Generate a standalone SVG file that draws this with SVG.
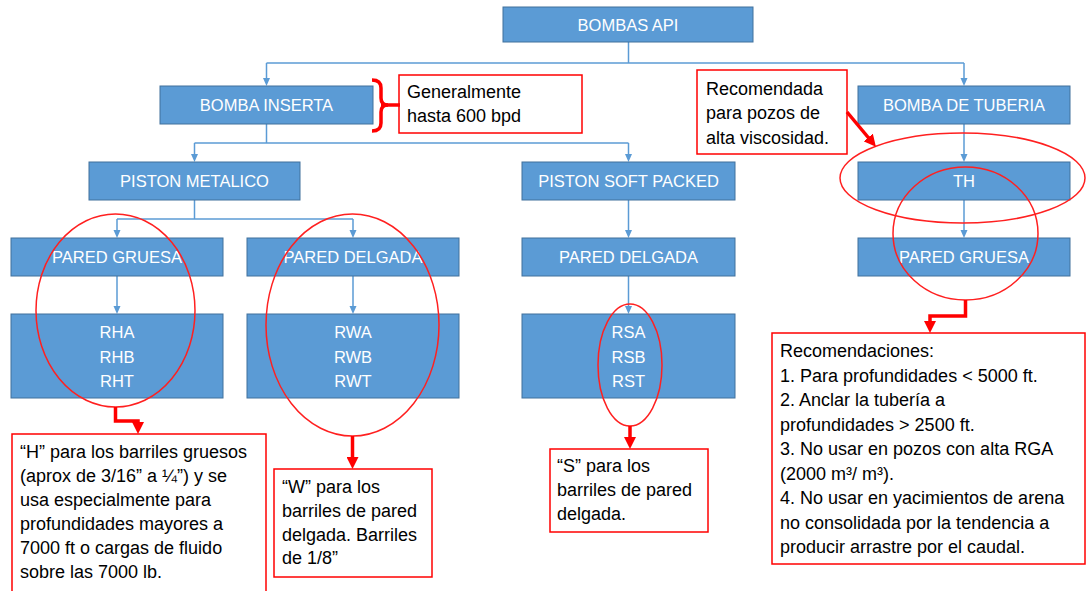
<svg xmlns="http://www.w3.org/2000/svg" width="1086" height="591" viewBox="0 0 1086 591">
<style>
.box{fill:#5b9bd5;stroke:#41719c;stroke-width:1}
.bt{font-family:"Liberation Sans",Arial,sans-serif;font-size:16.5px;fill:#ffffff;text-anchor:middle}
.conn{fill:none;stroke:#5b9bd5;stroke-width:1.5}
.note{fill:#ffffff;stroke:#ff0000;stroke-width:1.5}
.nt{font-family:"Liberation Sans",Arial,sans-serif;font-size:18px;fill:#000000}
.ell{fill:none;stroke:#ff2020;stroke-width:1.5}
.rc{fill:none;stroke:#ff0000;stroke-width:3.5}
</style>
<defs>
<marker id="ab" markerUnits="userSpaceOnUse" markerWidth="8" markerHeight="8" viewBox="0 0 8 8" refX="1" refY="4" orient="auto">
<path d="M0,0.5 L8,4 L0,7.5 z" fill="#5b9bd5"/>
</marker>
<marker id="ar" markerUnits="userSpaceOnUse" markerWidth="12" markerHeight="12" viewBox="0 0 12 12" refX="2" refY="6" orient="auto">
<path d="M0,0 L12,6 L0,12 z" fill="#ff0000"/>
</marker>
</defs>

<g id="connectors">
<path class="conn" d="M628.5,42 V63"/>
<path class="conn" d="M266.5,63 H964"/>
<path class="conn" d="M266.5,63 V79" marker-end="url(#ab)"/>
<path class="conn" d="M964,63 V79" marker-end="url(#ab)"/>
<path class="conn" d="M266.5,124 V143"/>
<path class="conn" d="M194.5,143 H628.5"/>
<path class="conn" d="M194.5,143 V155" marker-end="url(#ab)"/>
<path class="conn" d="M628.5,143 V155" marker-end="url(#ab)"/>
<path class="conn" d="M194.5,200 V219"/>
<path class="conn" d="M117,219 H353"/>
<path class="conn" d="M117,219 V231" marker-end="url(#ab)"/>
<path class="conn" d="M353,219 V231" marker-end="url(#ab)"/>
<path class="conn" d="M117,276 V307" marker-end="url(#ab)"/>
<path class="conn" d="M353,276 V307" marker-end="url(#ab)"/>
<path class="conn" d="M628.5,200 V231" marker-end="url(#ab)"/>
<path class="conn" d="M628.5,276 V307" marker-end="url(#ab)"/>
<path class="conn" d="M964,124 V155" marker-end="url(#ab)"/>
<path class="conn" d="M964,200 V231" marker-end="url(#ab)"/>
</g>

<g id="bombas-api"><rect class="box" x="503" y="7" width="250" height="35"/><text class="bt" x="628" y="30.5">BOMBAS API</text></g>
<g id="bomba-inserta"><rect class="box" x="160" y="86" width="213" height="38"/><text class="bt" x="266.5" y="111">BOMBA INSERTA</text></g>
<g id="bomba-tuberia"><rect class="box" x="858" y="86" width="212" height="38"/><text class="bt" x="964" y="111">BOMBA DE TUBERIA</text></g>
<g id="piston-metalico"><rect class="box" x="89" y="162" width="211" height="38"/><text class="bt" x="194.5" y="187">PISTON METALICO</text></g>
<g id="piston-soft"><rect class="box" x="522" y="162" width="213" height="38"/><text class="bt" x="628.5" y="187">PISTON SOFT PACKED</text></g>
<g id="th"><rect class="box" x="858" y="162" width="212" height="38"/><text class="bt" x="964" y="187">TH</text></g>
<g id="pared-gruesa-1"><rect class="box" x="11" y="238" width="212" height="38"/><text class="bt" x="117" y="263">PARED GRUESA</text></g>
<g id="pared-delgada-1"><rect class="box" x="247" y="238" width="212" height="38"/><text class="bt" x="353" y="263">PARED DELGADA</text></g>
<g id="pared-delgada-2"><rect class="box" x="522" y="238" width="213" height="38"/><text class="bt" x="628.5" y="263">PARED DELGADA</text></g>
<g id="pared-gruesa-2"><rect class="box" x="858" y="238" width="212" height="38"/><text class="bt" x="964" y="263">PARED GRUESA</text></g>
<g id="rh"><rect class="box" x="11" y="314" width="212" height="84"/><text class="bt" x="117" y="338">RHA</text><text class="bt" x="117" y="362.5">RHB</text><text class="bt" x="117" y="387">RHT</text></g>
<g id="rw"><rect class="box" x="247" y="314" width="212" height="84"/><text class="bt" x="353" y="338">RWA</text><text class="bt" x="353" y="362.5">RWB</text><text class="bt" x="353" y="387">RWT</text></g>
<g id="rs"><rect class="box" x="522" y="314" width="213" height="84"/><text class="bt" x="628.5" y="338">RSA</text><text class="bt" x="628.5" y="362.5">RSB</text><text class="bt" x="628.5" y="387">RST</text></g>

<g id="note-generalmente"><rect class="note" x="399" y="75" width="183" height="58"/><text class="nt" x="407" y="98">Generalmente</text><text class="nt" x="407" y="122">hasta 600 bpd</text></g>
<g id="note-recomendada"><rect class="note" x="697" y="70" width="150" height="84"/><text class="nt" x="706" y="94.5">Recomendada</text><text class="nt" x="706" y="119">para pozos de</text><text class="nt" x="706" y="143.5">alta viscosidad.</text></g>
<g id="note-h"><rect class="note" x="12" y="434" width="254" height="170"/>
<text class="nt" x="20" y="458">“H” para los barriles gruesos</text>
<text class="nt" x="20" y="482">(aprox de 3/16” a ¼”) y se</text>
<text class="nt" x="20" y="506">usa especialmente para</text>
<text class="nt" x="20" y="530">profundidades mayores a</text>
<text class="nt" x="20" y="554">7000 ft o cargas de fluido</text>
<text class="nt" x="20" y="578">sobre las 7000 lb.</text></g>
<g id="note-w"><rect class="note" x="274" y="469" width="158" height="108"/>
<text class="nt" x="282" y="493">“W” para los</text>
<text class="nt" x="282" y="517">barriles de pared</text>
<text class="nt" x="282" y="540.5">delgada. Barriles</text>
<text class="nt" x="282" y="564">de 1/8”</text></g>
<g id="note-s"><rect class="note" x="550" y="449" width="158" height="83"/>
<text class="nt" x="557" y="472">“S” para los</text>
<text class="nt" x="557" y="496">barriles de pared</text>
<text class="nt" x="557" y="520">delgada.</text></g>
<g id="note-recomendaciones"><rect class="note" x="772" y="333" width="313" height="231"/>
<text class="nt" x="780" y="357">Recomendaciones:</text>
<text class="nt" x="780" y="381.5">1. Para profundidades &lt; 5000 ft.</text>
<text class="nt" x="780" y="406">2. Anclar la tubería a</text>
<text class="nt" x="780" y="430.5">profundidades &gt; 2500 ft.</text>
<text class="nt" x="780" y="455">3. No usar en pozos con alta RGA</text>
<text class="nt" x="780" y="479.5">(2000 m³/ m³).</text>
<text class="nt" x="780" y="504">4. No usar en yacimientos de arena</text>
<text class="nt" x="780" y="528.5">no consolidada por la tendencia a</text>
<text class="nt" x="780" y="553">producir arrastre por el caudal.</text></g>

<g id="highlights">
<ellipse class="ell" cx="115.5" cy="310.5" rx="79.5" ry="96.5"/>
<ellipse class="ell" cx="352.5" cy="325" rx="86.5" ry="111"/>
<ellipse class="ell" cx="630" cy="365" rx="32" ry="61"/>
<ellipse class="ell" cx="962.5" cy="178" rx="122.5" ry="45"/>
<ellipse class="ell" cx="965.5" cy="233.5" rx="72.5" ry="66.5"/>
</g>

<g id="red-connectors">
<path class="rc" d="M372,80 Q381,80 381,88 V98 Q381,105 388,105 Q381,105 381,112 V123 Q381,131 372,131"/>
<path class="rc" d="M381,105 H400"/>
<path class="rc" d="M115.5,407 V421 H138 V424" marker-end="url(#ar)"/>
<path class="rc" d="M352.5,436 V459" marker-end="url(#ar)"/>
<path class="rc" d="M630,426 V439" marker-end="url(#ar)"/>
<path class="rc" d="M965.5,300 V316 H930 V323" marker-end="url(#ar)"/>
<path class="rc" d="M847,112 L869.5,139" marker-end="url(#ar)"/>
</g>
</svg>
